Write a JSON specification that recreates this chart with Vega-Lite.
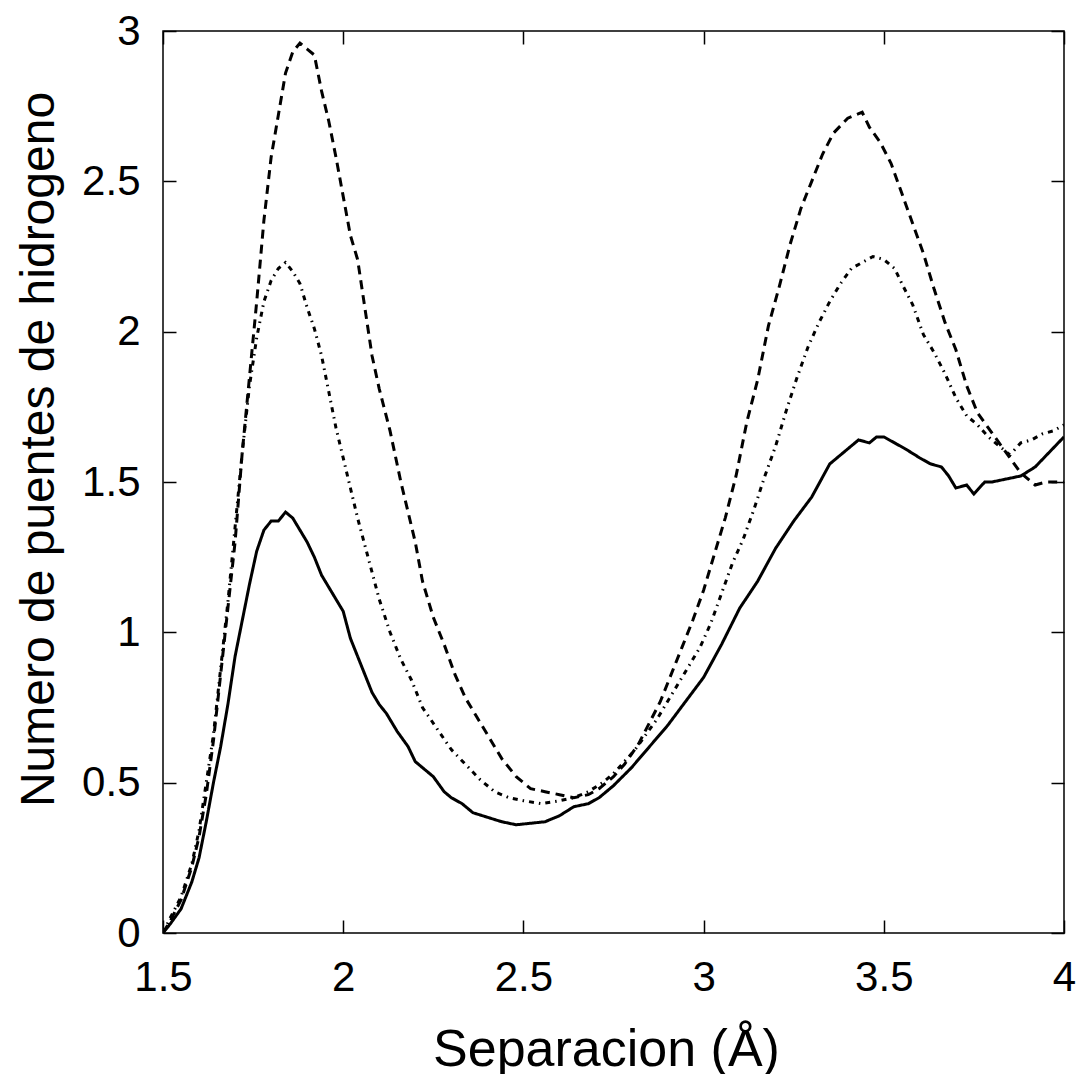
{
  "$schema": "https://vega.github.io/schema/vega-lite/v6.json",
  "width": 901,
  "height": 902,
  "autosize": {"type": "none"},
  "padding": {"left": 163, "top": 31, "right": 14, "bottom": 141},
  "background": "white",
  "config": {
    "view": {"stroke": "black", "strokeWidth": 1.5},
    "axis": {
      "labelFont": "Liberation Sans",
      "labelFontSize": 42,
      "labelColor": "black",
      "titleFont": "Liberation Sans",
      "titleColor": "black",
      "titleFontWeight": "normal",
      "tickColor": "black",
      "tickWidth": 1.5,
      "tickSize": -13,
      "domain": false,
      "grid": false
    }
  },
  "datasets": {
    "curvas": [
      {"x":1.50,"y":0.0,"s":"A"},{"x":1.52,"y":0.03,"s":"A"},{"x":1.55,"y":0.08,"s":"A"},{"x":1.58,"y":0.17,"s":"A"},{"x":1.60,"y":0.25,"s":"A"},{"x":1.62,"y":0.37,"s":"A"},{"x":1.64,"y":0.50,"s":"A"},{"x":1.66,"y":0.62,"s":"A"},{"x":1.68,"y":0.76,"s":"A"},{"x":1.70,"y":0.92,"s":"A"},{"x":1.72,"y":1.04,"s":"A"},{"x":1.74,"y":1.16,"s":"A"},{"x":1.76,"y":1.27,"s":"A"},{"x":1.78,"y":1.34,"s":"A"},{"x":1.80,"y":1.37,"s":"A"},{"x":1.82,"y":1.37,"s":"A"},{"x":1.84,"y":1.40,"s":"A"},{"x":1.86,"y":1.38,"s":"A"},{"x":1.88,"y":1.34,"s":"A"},{"x":1.90,"y":1.30,"s":"A"},{"x":1.92,"y":1.25,"s":"A"},{"x":1.94,"y":1.19,"s":"A"},{"x":1.96,"y":1.15,"s":"A"},{"x":1.98,"y":1.11,"s":"A"},{"x":2.00,"y":1.07,"s":"A"},{"x":2.02,"y":0.98,"s":"A"},{"x":2.04,"y":0.92,"s":"A"},{"x":2.06,"y":0.86,"s":"A"},{"x":2.08,"y":0.80,"s":"A"},{"x":2.10,"y":0.76,"s":"A"},{"x":2.12,"y":0.73,"s":"A"},{"x":2.15,"y":0.67,"s":"A"},{"x":2.18,"y":0.62,"s":"A"},{"x":2.20,"y":0.57,"s":"A"},{"x":2.22,"y":0.55,"s":"A"},{"x":2.25,"y":0.52,"s":"A"},{"x":2.28,"y":0.47,"s":"A"},{"x":2.30,"y":0.45,"s":"A"},{"x":2.33,"y":0.43,"s":"A"},{"x":2.36,"y":0.40,"s":"A"},{"x":2.40,"y":0.385,"s":"A"},{"x":2.44,"y":0.37,"s":"A"},{"x":2.48,"y":0.36,"s":"A"},{"x":2.52,"y":0.365,"s":"A"},{"x":2.56,"y":0.37,"s":"A"},{"x":2.60,"y":0.39,"s":"A"},{"x":2.64,"y":0.42,"s":"A"},{"x":2.68,"y":0.43,"s":"A"},{"x":2.71,"y":0.45,"s":"A"},{"x":2.75,"y":0.49,"s":"A"},{"x":2.80,"y":0.55,"s":"A"},{"x":2.85,"y":0.62,"s":"A"},{"x":2.90,"y":0.69,"s":"A"},{"x":2.95,"y":0.77,"s":"A"},{"x":3.00,"y":0.85,"s":"A"},{"x":3.05,"y":0.96,"s":"A"},{"x":3.10,"y":1.08,"s":"A"},{"x":3.15,"y":1.17,"s":"A"},{"x":3.20,"y":1.28,"s":"A"},{"x":3.25,"y":1.37,"s":"A"},{"x":3.30,"y":1.45,"s":"A"},{"x":3.35,"y":1.56,"s":"A"},{"x":3.40,"y":1.61,"s":"A"},{"x":3.43,"y":1.64,"s":"A"},{"x":3.46,"y":1.63,"s":"A"},{"x":3.48,"y":1.65,"s":"A"},{"x":3.50,"y":1.65,"s":"A"},{"x":3.53,"y":1.63,"s":"A"},{"x":3.56,"y":1.61,"s":"A"},{"x":3.60,"y":1.58,"s":"A"},{"x":3.63,"y":1.56,"s":"A"},{"x":3.66,"y":1.55,"s":"A"},{"x":3.68,"y":1.52,"s":"A"},{"x":3.70,"y":1.48,"s":"A"},{"x":3.73,"y":1.49,"s":"A"},{"x":3.75,"y":1.46,"s":"A"},{"x":3.78,"y":1.50,"s":"A"},{"x":3.80,"y":1.50,"s":"A"},{"x":3.84,"y":1.51,"s":"A"},{"x":3.88,"y":1.52,"s":"A"},{"x":3.92,"y":1.55,"s":"A"},{"x":3.96,"y":1.60,"s":"A"},{"x":4.00,"y":1.65,"s":"A"},

      {"x":1.50,"y":0.0,"s":"B"},{"x":1.52,"y":0.04,"s":"B"},{"x":1.55,"y":0.11,"s":"B"},{"x":1.58,"y":0.22,"s":"B"},{"x":1.60,"y":0.32,"s":"B"},{"x":1.62,"y":0.46,"s":"B"},{"x":1.64,"y":0.64,"s":"B"},{"x":1.66,"y":0.86,"s":"B"},{"x":1.68,"y":1.08,"s":"B"},{"x":1.70,"y":1.30,"s":"B"},{"x":1.72,"y":1.60,"s":"B"},{"x":1.74,"y":1.85,"s":"B"},{"x":1.76,"y":2.10,"s":"B"},{"x":1.78,"y":2.37,"s":"B"},{"x":1.80,"y":2.58,"s":"B"},{"x":1.82,"y":2.72,"s":"B"},{"x":1.84,"y":2.86,"s":"B"},{"x":1.86,"y":2.93,"s":"B"},{"x":1.88,"y":2.96,"s":"B"},{"x":1.90,"y":2.94,"s":"B"},{"x":1.92,"y":2.92,"s":"B"},{"x":1.94,"y":2.80,"s":"B"},{"x":1.96,"y":2.70,"s":"B"},{"x":1.98,"y":2.58,"s":"B"},{"x":2.00,"y":2.45,"s":"B"},{"x":2.02,"y":2.32,"s":"B"},{"x":2.04,"y":2.24,"s":"B"},{"x":2.06,"y":2.08,"s":"B"},{"x":2.08,"y":1.92,"s":"B"},{"x":2.10,"y":1.81,"s":"B"},{"x":2.13,"y":1.67,"s":"B"},{"x":2.16,"y":1.50,"s":"B"},{"x":2.18,"y":1.40,"s":"B"},{"x":2.20,"y":1.30,"s":"B"},{"x":2.22,"y":1.17,"s":"B"},{"x":2.25,"y":1.05,"s":"B"},{"x":2.28,"y":0.96,"s":"B"},{"x":2.31,"y":0.86,"s":"B"},{"x":2.34,"y":0.78,"s":"B"},{"x":2.37,"y":0.72,"s":"B"},{"x":2.40,"y":0.66,"s":"B"},{"x":2.44,"y":0.58,"s":"B"},{"x":2.48,"y":0.52,"s":"B"},{"x":2.52,"y":0.48,"s":"B"},{"x":2.56,"y":0.47,"s":"B"},{"x":2.60,"y":0.46,"s":"B"},{"x":2.64,"y":0.45,"s":"B"},{"x":2.68,"y":0.46,"s":"B"},{"x":2.71,"y":0.48,"s":"B"},{"x":2.75,"y":0.52,"s":"B"},{"x":2.78,"y":0.56,"s":"B"},{"x":2.82,"y":0.63,"s":"B"},{"x":2.85,"y":0.70,"s":"B"},{"x":2.88,"y":0.77,"s":"B"},{"x":2.91,"y":0.86,"s":"B"},{"x":2.94,"y":0.95,"s":"B"},{"x":2.97,"y":1.04,"s":"B"},{"x":3.00,"y":1.14,"s":"B"},{"x":3.03,"y":1.26,"s":"B"},{"x":3.06,"y":1.38,"s":"B"},{"x":3.09,"y":1.52,"s":"B"},{"x":3.12,"y":1.70,"s":"B"},{"x":3.15,"y":1.84,"s":"B"},{"x":3.18,"y":2.02,"s":"B"},{"x":3.21,"y":2.15,"s":"B"},{"x":3.24,"y":2.29,"s":"B"},{"x":3.27,"y":2.41,"s":"B"},{"x":3.30,"y":2.50,"s":"B"},{"x":3.33,"y":2.59,"s":"B"},{"x":3.36,"y":2.66,"s":"B"},{"x":3.40,"y":2.71,"s":"B"},{"x":3.44,"y":2.73,"s":"B"},{"x":3.46,"y":2.68,"s":"B"},{"x":3.49,"y":2.63,"s":"B"},{"x":3.52,"y":2.56,"s":"B"},{"x":3.55,"y":2.46,"s":"B"},{"x":3.58,"y":2.36,"s":"B"},{"x":3.61,"y":2.26,"s":"B"},{"x":3.64,"y":2.14,"s":"B"},{"x":3.67,"y":2.03,"s":"B"},{"x":3.70,"y":1.94,"s":"B"},{"x":3.73,"y":1.82,"s":"B"},{"x":3.76,"y":1.73,"s":"B"},{"x":3.79,"y":1.68,"s":"B"},{"x":3.82,"y":1.63,"s":"B"},{"x":3.85,"y":1.58,"s":"B"},{"x":3.88,"y":1.53,"s":"B"},{"x":3.92,"y":1.49,"s":"B"},{"x":3.95,"y":1.50,"s":"B"},{"x":4.00,"y":1.50,"s":"B"},

      {"x":1.50,"y":0.0,"s":"C"},{"x":1.52,"y":0.05,"s":"C"},{"x":1.55,"y":0.12,"s":"C"},{"x":1.58,"y":0.23,"s":"C"},{"x":1.60,"y":0.34,"s":"C"},{"x":1.62,"y":0.50,"s":"C"},{"x":1.64,"y":0.66,"s":"C"},{"x":1.66,"y":0.88,"s":"C"},{"x":1.68,"y":1.10,"s":"C"},{"x":1.70,"y":1.35,"s":"C"},{"x":1.72,"y":1.60,"s":"C"},{"x":1.74,"y":1.82,"s":"C"},{"x":1.76,"y":1.98,"s":"C"},{"x":1.78,"y":2.10,"s":"C"},{"x":1.80,"y":2.17,"s":"C"},{"x":1.82,"y":2.21,"s":"C"},{"x":1.84,"y":2.23,"s":"C"},{"x":1.86,"y":2.20,"s":"C"},{"x":1.88,"y":2.16,"s":"C"},{"x":1.90,"y":2.08,"s":"C"},{"x":1.92,"y":2.01,"s":"C"},{"x":1.94,"y":1.92,"s":"C"},{"x":1.96,"y":1.80,"s":"C"},{"x":1.98,"y":1.68,"s":"C"},{"x":2.00,"y":1.58,"s":"C"},{"x":2.02,"y":1.48,"s":"C"},{"x":2.04,"y":1.38,"s":"C"},{"x":2.06,"y":1.29,"s":"C"},{"x":2.08,"y":1.20,"s":"C"},{"x":2.10,"y":1.11,"s":"C"},{"x":2.13,"y":1.00,"s":"C"},{"x":2.16,"y":0.91,"s":"C"},{"x":2.19,"y":0.84,"s":"C"},{"x":2.22,"y":0.75,"s":"C"},{"x":2.26,"y":0.68,"s":"C"},{"x":2.30,"y":0.61,"s":"C"},{"x":2.34,"y":0.56,"s":"C"},{"x":2.38,"y":0.51,"s":"C"},{"x":2.42,"y":0.47,"s":"C"},{"x":2.46,"y":0.45,"s":"C"},{"x":2.50,"y":0.44,"s":"C"},{"x":2.55,"y":0.43,"s":"C"},{"x":2.60,"y":0.44,"s":"C"},{"x":2.64,"y":0.45,"s":"C"},{"x":2.68,"y":0.47,"s":"C"},{"x":2.72,"y":0.50,"s":"C"},{"x":2.75,"y":0.53,"s":"C"},{"x":2.78,"y":0.57,"s":"C"},{"x":2.81,"y":0.61,"s":"C"},{"x":2.84,"y":0.66,"s":"C"},{"x":2.87,"y":0.71,"s":"C"},{"x":2.90,"y":0.77,"s":"C"},{"x":2.93,"y":0.83,"s":"C"},{"x":2.96,"y":0.89,"s":"C"},{"x":2.99,"y":0.95,"s":"C"},{"x":3.02,"y":1.03,"s":"C"},{"x":3.05,"y":1.13,"s":"C"},{"x":3.08,"y":1.23,"s":"C"},{"x":3.11,"y":1.31,"s":"C"},{"x":3.14,"y":1.41,"s":"C"},{"x":3.17,"y":1.52,"s":"C"},{"x":3.20,"y":1.62,"s":"C"},{"x":3.23,"y":1.74,"s":"C"},{"x":3.26,"y":1.85,"s":"C"},{"x":3.29,"y":1.95,"s":"C"},{"x":3.32,"y":2.03,"s":"C"},{"x":3.35,"y":2.10,"s":"C"},{"x":3.38,"y":2.16,"s":"C"},{"x":3.41,"y":2.21,"s":"C"},{"x":3.44,"y":2.23,"s":"C"},{"x":3.47,"y":2.25,"s":"C"},{"x":3.50,"y":2.24,"s":"C"},{"x":3.53,"y":2.21,"s":"C"},{"x":3.55,"y":2.16,"s":"C"},{"x":3.58,"y":2.09,"s":"C"},{"x":3.61,"y":1.99,"s":"C"},{"x":3.64,"y":1.93,"s":"C"},{"x":3.67,"y":1.86,"s":"C"},{"x":3.70,"y":1.78,"s":"C"},{"x":3.73,"y":1.72,"s":"C"},{"x":3.76,"y":1.69,"s":"C"},{"x":3.79,"y":1.65,"s":"C"},{"x":3.82,"y":1.62,"s":"C"},{"x":3.85,"y":1.59,"s":"C"},{"x":3.88,"y":1.63,"s":"C"},{"x":3.91,"y":1.64,"s":"C"},{"x":3.94,"y":1.66,"s":"C"},{"x":3.97,"y":1.67,"s":"C"},{"x":4.00,"y":1.69,"s":"C"}
    ]
  },
  "data": {"name": "curvas"},
  "layer": [
    {
      "mark": {"type": "line", "color": "black", "strokeWidth": 3, "clip": true},
      "encoding": {
        "x": {
          "field": "x", "type": "quantitative",
          "scale": {"domain": [1.5, 4], "nice": false, "zero": false},
          "axis": {
            "orient": "bottom",
            "values": [1.5, 2, 2.5, 3, 3.5, 4],
            "format": "~g",
            "labelPadding": 37,
            "labelFlush": false,
            "title": "Separacion (Å)",
            "titleFontSize": 52,
            "titleX": 443,
            "titleY": 132,
            "titleBaseline": "alphabetic",
            "titleAlign": "center"
          }
        },
        "y": {
          "field": "y", "type": "quantitative",
          "scale": {"domain": [0, 3], "nice": false},
          "axis": {
            "orient": "left",
            "values": [0, 0.5, 1, 1.5, 2, 2.5, 3],
            "format": "~g",
            "labelPadding": 36,
            "labelFlush": false,
            "title": "Numero de puentes de hidrogeno",
            "titleFontSize": 48,
            "titleAngle": -90,
            "titleX": -110,
            "titleY": 418,
            "titleBaseline": "alphabetic",
            "titleAlign": "center"
          }
        },
        "strokeDash": {
          "field": "s", "type": "nominal",
          "scale": {"domain": ["A", "B", "C"], "range": [[1, 0], [9, 6], [5, 5, 1.5, 5]]},
          "legend": null
        }
      }
    },
    {
      "mark": {"type": "line", "opacity": 0},
      "encoding": {
        "x": {
          "field": "x", "type": "quantitative",
          "scale": {"domain": [1.5, 4], "nice": false, "zero": false},
          "axis": {"orient": "top", "values": [1.5, 2, 2.5, 3, 3.5, 4], "labels": false, "title": null}
        },
        "y": {
          "field": "y", "type": "quantitative",
          "scale": {"domain": [0, 3], "nice": false},
          "axis": {"orient": "right", "values": [0, 0.5, 1, 1.5, 2, 2.5, 3], "labels": false, "title": null}
        },
        "detail": {"field": "s", "type": "nominal"}
      }
    }
  ],
  "resolve": {"scale": {"x": "independent", "y": "independent"}, "axis": {"x": "independent", "y": "independent"}}
}
